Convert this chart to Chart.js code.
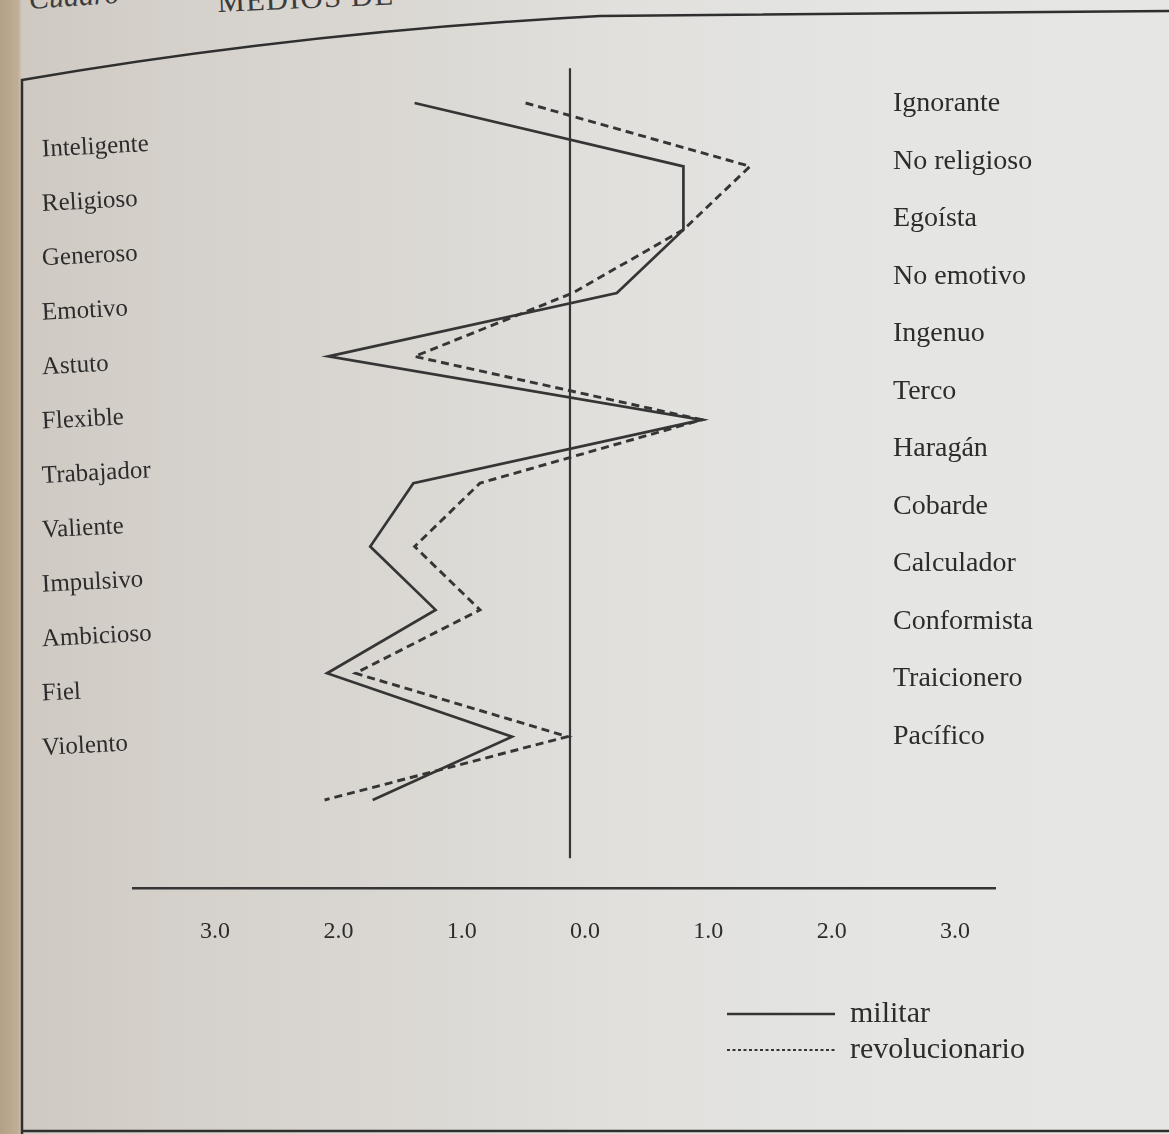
<!DOCTYPE html>
<html>
<head>
<meta charset="utf-8">
<script src="https://cdn.jsdelivr.net/npm/chart.js@4.4.1/dist/chart.umd.min.js"></script>
<style>
  html, body { margin: 0; padding: 0; }
  body {
    width: 1169px; height: 1134px; overflow: hidden; position: relative;
    background: linear-gradient(to right, #b3a085 0px, #c0ae96 18px, #cfc9c2 22px, #d4cfc9 140px, #dad7d2 380px, #e1e0dd 620px, #e5e5e3 900px, #e6e6e4 1169px);
  }
  #frame { position: absolute; left: 0; top: 0; }
  #wrap { position: absolute; left: 0; top: 0; width: 1169px; height: 1134px; }
  .hdr { position: absolute; font-family: 'Liberation Serif', serif; color: #3b3b3b; white-space: nowrap; transform-origin: left bottom; }
</style>
</head>
<body>
<svg id="frame" width="1169" height="1134">
  <path d="M22 1134 L22 80 Q 300 32 600 16 L 1169 11" stroke="#2f2f2f" stroke-width="2.5" fill="none"/>
  <line x1="21" y1="1131" x2="1169" y2="1131" stroke="#2f2f2f" stroke-width="2.5"/>
</svg>
<div class="hdr" style="left:30px; top:-18px; font-size:30px; font-style:italic; transform:rotate(-4deg);">Cuadro</div>
<div class="hdr" style="left:218px; top:-16px; font-size:31px; letter-spacing:1px; transform:rotate(-2.5deg);">MEDIOS DE</div>
<div id="wrap"><canvas id="c" width="1169" height="1134"></canvas></div>
<script>
// ---- data ----
const leftLabels = ['Inteligente', 'Religioso', 'Generoso', 'Emotivo', 'Astuto', 'Flexible',
  'Trabajador', 'Valiente', 'Impulsivo', 'Ambicioso', 'Fiel', 'Violento'];
const rightLabels = ['Ignorante', 'No religioso', 'Egoísta', 'No emotivo', 'Ingenuo', 'Terco',
  'Haragán', 'Cobarde', 'Calculador', 'Conformista', 'Traicionero', 'Pacífico'];
const xTickValues = [-3, -2, -1, 0, 1, 2, 3];
const seriesNames = ['militar', 'revolucionario'];
// negative = toward the left-hand adjective, positive = toward the right-hand one
const militar = [-1.26, 0.92, 0.92, 0.38, -1.96, 1.07, -1.27, -1.62, -1.09, -1.97, -0.47, -1.60];
const revolucionario = [-0.36, 1.46, 0.92, 0.02, -1.26, 1.07, -0.73, -1.26, -0.73, -1.74, -0.02, -1.99];

// ---- styling ----
const INK = '#353535';
const TEXT = '#2c2c2c';
const SERIF = "'Liberation Serif', 'DejaVu Serif', serif";

const toPoints = arr => arr.map((v, i) => ({ x: v, y: i }));

const zeroLinePlugin = {
  id: 'zeroLine',
  beforeDatasetsDraw(chart, args, opts) {
    const xs = chart.scales.x, ys = chart.scales.y, ctx = chart.ctx;
    const px = xs.getPixelForValue(0);
    ctx.save();
    ctx.strokeStyle = opts.color;
    ctx.lineWidth = opts.width;
    ctx.beginPath();
    ctx.moveTo(px, ys.getPixelForValue(opts.from));
    ctx.lineTo(px, ys.getPixelForValue(opts.to));
    ctx.stroke();
    ctx.restore();
  }
};

const legendPlacer = {
  id: 'legendPlacer',
  afterLayout(chart, args, opts) {
    const lg = chart.legend;
    if (!lg) return;
    lg.left = opts.left;
    lg.top = opts.top;
    lg.height = opts.height;
    lg.right = opts.left + lg.width;
    lg.bottom = opts.top + opts.height;
  }
};

// label axes sit on the chart-area edge with zero width; their labels are mirrored
const flatAxis = s => { s.width = 0; s.paddingTop = 0; s.paddingBottom = 0; };

new Chart(document.getElementById('c'), {
  type: 'line',
  data: {
    datasets: [
      { label: seriesNames[0], data: toPoints(militar), borderColor: INK, borderWidth: 2.7,
        borderDash: [], pointRadius: 0, tension: 0, fill: false, borderJoinStyle: 'miter',
        xAxisID: 'x', yAxisID: 'y' },
      { label: seriesNames[1], data: toPoints(revolucionario), borderColor: INK, borderWidth: 2.9,
        borderDash: [8, 5], pointRadius: 0, tension: 0, fill: false, borderJoinStyle: 'miter',
        xAxisID: 'x', yAxisID: 'y' }
    ]
  },
  options: {
    responsive: false,
    animation: false,
    devicePixelRatio: 1,
    indexAxis: 'y',
    events: [],
    layout: { padding: { left: 133, right: 174, top: 40, bottom: 0 } },
    scales: {
      x: { type: 'linear', display: false, min: -3.544, max: 3.447 },
      y: { type: 'linear', display: false, reverse: true, min: -0.994, max: 12.389 },
      xt: {
        type: 'linear', axis: 'x', position: 'bottom', min: -3.666, max: 3.325,
        afterBuildTicks: s => { s.ticks = xTickValues.map(v => ({ value: v })); },
        afterFit: s => { s.height = 246; },
        grid: { display: true, drawOnChartArea: false, drawTicks: false, color: 'rgba(0,0,0,0)' },
        border: { display: true, color: INK, width: 2.6 },
        ticks: { padding: 29, color: TEXT, autoSkip: false, maxRotation: 0,
          font: { family: SERIF, size: 24 },
          callback: v => Math.abs(v).toFixed(1) }
      },
      yl: {
        type: 'linear', axis: 'y', position: 'left', reverse: true, min: -2.022, max: 13.566,
        afterBuildTicks: s => { s.ticks = leftLabels.map((_, i) => ({ value: i })); },
        afterFit: flatAxis,
        grid: { display: false, drawTicks: false },
        border: { display: false },
        ticks: { mirror: true, padding: -91, minRotation: 3, maxRotation: 3, autoSkip: false,
          color: TEXT, font: { family: SERIF, size: 25 },
          callback: v => leftLabels[v] }
      },
      yr: {
        type: 'linear', axis: 'y', position: 'left', reverse: true, min: -1.113, max: 13.635,
        afterBuildTicks: s => { s.ticks = rightLabels.map((_, i) => ({ value: i })); },
        afterFit: flatAxis,
        grid: { display: false, drawTicks: false },
        border: { display: false },
        ticks: { mirror: true, padding: 760, autoSkip: false,
          color: TEXT, font: { family: SERIF, size: 28 },
          callback: v => rightLabels[v] }
      }
    },
    plugins: {
      tooltip: { enabled: false },
      zeroLine: { from: -0.55, to: 11.92, color: INK, width: 2.2 },
      legendPlacer: { left: 721, top: 993, height: 110 },
      legend: {
        position: 'chartArea',
        align: 'start',
        labels: {
          usePointStyle: true, pointStyleWidth: 108, padding: 6, color: TEXT,
          font: { family: SERIF, size: 30 },
          generateLabels: chart => chart.data.datasets.map((ds, i) => ({
            text: ds.label, strokeStyle: ds.borderColor, fillStyle: 'rgba(0,0,0,0)',
            lineWidth: i === 0 ? 2.6 : 2.2, lineDash: i === 0 ? [] : [3, 2.5],
            pointStyle: 'line', hidden: false, datasetIndex: i, fontColor: TEXT
          }))
        }
      }
    }
  },
  plugins: [zeroLinePlugin, legendPlacer]
});
</script>
</body>
</html>
